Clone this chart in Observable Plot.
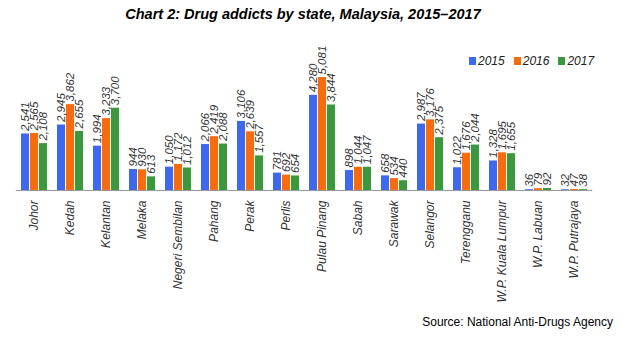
<!DOCTYPE html>
<html>
<head>
<meta charset="utf-8">
<script src="https://cdn.jsdelivr.net/npm/d3@7"></script>
<script src="https://cdn.jsdelivr.net/npm/@observablehq/plot@0.6"></script>
<style>
  body { margin: 0; background: #fff; font-family: "Liberation Sans", Arial, sans-serif; }
  #wrap { position: relative; width: 624px; height: 346px; overflow: hidden; }
  #title { position: absolute; left: 0; width: 606px; top: 6px; text-align: center; font-weight: bold; font-style: italic; font-size: 14.5px; color: #000; }
  #legend { position: absolute; left: 469px; top: 54px; font-style: italic; font-size: 12px; color: #222; display: flex; gap: 9px; }
  #legend span.sw { display: inline-block; width: 7px; height: 8px; margin-right: 2px; vertical-align: -0px; }
  #source { position: absolute; right: 11px; top: 315px; font-size: 12px; color: #000; }
  #chart { position: absolute; left: 0; top: 30px; }
</style>
</head>
<body>
<div id="wrap">
  <div id="title">Chart 2: Drug addicts by state, Malaysia, 2015–2017</div>
  <div id="chart"></div>
  <div id="legend"></div>
  <div id="source">Source: National Anti-Drugs Agency</div>
</div>
<script>
const states = ["Johor", "Kedah", "Kelantan", "Melaka", "Negeri Sembilan", "Pahang", "Perak", "Perlis",
  "Pulau Pinang", "Sabah", "Sarawak", "Selangor", "Terengganu", "W.P. Kuala Lumpur", "W.P. Labuan", "W.P. Putrajaya"];
const years = ["2015", "2016", "2017"];
const values2015 = [2541, 2945, 1994, 944, 1050, 2066, 3106, 781, 4280, 898, 658, 2987, 1022, 1328, 36, 32];
const values2016 = [2565, 3862, 3233, 930, 1172, 2419, 2639, 692, 5081, 1044, 534, 3176, 1676, 1695, 79, 47];
const values2017 = [2108, 2655, 3700, 613, 1012, 2088, 1557, 654, 3844, 1047, 440, 2375, 2044, 1655, 92, 38];
const colors = ["#3b68f4", "#fc6a0a", "#389a3c"];

const series = [values2015, values2016, values2017];
const data = [];
states.forEach((s, i) => years.forEach((y, j) => data.push({state: s, year: y, value: series[j][i]})));

const fmt = d3.format(",");

const chart = Plot.plot({
  width: 624,
  height: 280,
  marginLeft: 12,
  marginRight: 29,
  marginTop: 47,
  marginBottom: 120,
  style: {fontFamily: "'Liberation Sans', Arial, sans-serif", fontStyle: "italic", fontSize: "12px", color: "#333", background: "transparent"},
  fx: {domain: states, paddingInner: 0.23, paddingOuter: 0.1, label: null, tickRotate: -90, tickSize: 0, tickPadding: 10},
  x: {domain: years, paddingInner: 0.1, paddingOuter: 0, axis: null},
  y: {domain: [0, d3.max(data, d => d.value)], axis: null},
  color: {domain: years, range: colors},
  marks: [
    Plot.barY(data, {fx: "state", x: "year", y: "value", fill: "year"}),
    Plot.ruleY([0], {stroke: "#999", strokeWidth: 1.2, insetLeft: -4.2, insetRight: -4.2}),
    Plot.text(data, {fx: "state", x: "year", y: "value", text: d => fmt(d.value), rotate: -90, textAnchor: "start", dy: -3, fontSize: 11.5, fill: "#333"})
  ]
});
document.getElementById("chart").appendChild(chart);

const legend = document.getElementById("legend");
years.forEach((y, i) => {
  const item = document.createElement("span");
  item.innerHTML = `<span class="sw" style="background:${colors[i]}"></span>${y}`;
  legend.appendChild(item);
});
</script>
</body>
</html>
